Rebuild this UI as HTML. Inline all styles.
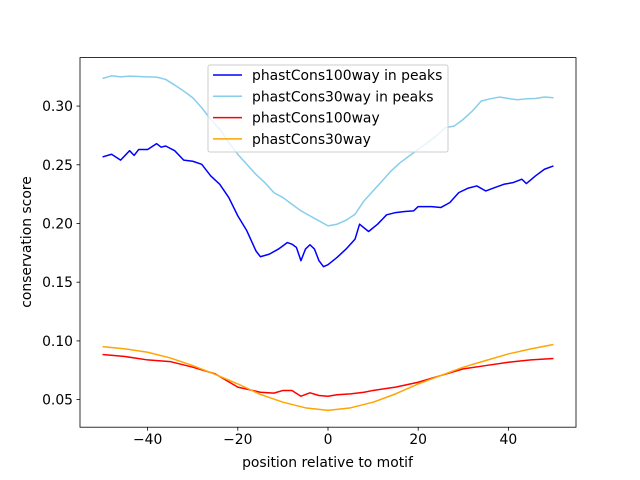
<!DOCTYPE html>
<html><head><meta charset="utf-8"><style>
body{margin:0;background:#fff}
svg{display:block;font-family:"DejaVu Sans","Liberation Sans",sans-serif}
</style></head><body>
<svg id="chart" width="640" height="480" viewBox="0 0 640 480">
<rect x="0" y="0" width="640" height="480" fill="#fff"/>
<g id="series"></g>
<g id="axes"></g>
<text x="327.5" y="467" font-size="13.9" text-anchor="middle" fill="#000">position relative to motif</text>
<text x="0" y="0" font-size="13.9" text-anchor="middle" fill="#000" transform="translate(31,242) rotate(-90)">conservation score</text>
<g id="legend"></g>
</svg>
<script>
const xTicks = [-40, -20, 0, 20, 40];
const yTicks = [0.05, 0.10, 0.15, 0.20, 0.25, 0.30];
const yTickLabels = ["0.05", "0.10", "0.15", "0.20", "0.25", "0.30"];

const peaks100X = [-50,-48,-46,-44,-43,-42,-40,-38,-37,-36,-34,-32,-30,-28,-26,-24,-22,-20,-18,-16,-15,-13,-11,-9,-8,-7,-6,-5,-4,-3,-2,-1,0,2,4,6,7,9,11,13,15,17,19,20,23,25,27,29,31,33,35,37,39,41,43,44,46,48,50];
const peaks100Y = [.2567,.2590,.2540,.2620,.2580,.2630,.2630,.2680,.2650,.2660,.2620,.2540,.2530,.2504,.2405,.2334,.2221,.2065,.1938,.1768,.1717,.1739,.1782,.1838,.1824,.1796,.1683,.1782,.1819,.1782,.1683,.1632,.1649,.1711,.1782,.1867,.1994,.1932,.1994,.2074,.2093,.2102,.2108,.2144,.2144,.2136,.2178,.2263,.2300,.2320,.2277,.2306,.2334,.2348,.2377,.2340,.2405,.2462,.2490];

const peaks30X = [-50,-48,-46,-44,-42,-40,-38,-36,-34,-32,-30,-28,-26,-24,-22,-20,-18,-16,-14,-12,-10,-8,-6,-4,-2,0,2,4,6,8,10,12,14,16,18,20,22,24,26,28,30,32,34,36,38,40,42,44,46,48,50];
const peaks30Y = [.3235,.3258,.3249,.3255,.3252,.3249,.3247,.3227,.3179,.3128,.3071,.2986,.2887,.2802,.2688,.2589,.2504,.2419,.2348,.2263,.2221,.2164,.2108,.2065,.2023,.1980,.1994,.2028,.2079,.2193,.2278,.2362,.2448,.2518,.2575,.2632,.2688,.2745,.2816,.2830,.2887,.2958,.3043,.3062,.3077,.3065,.3054,.3062,.3065,.3077,.3071];

const all100X = [-50,-45,-40,-35,-30,-25,-20,-15,-12,-10,-8,-6,-4,-2,0,2,5,8,10,15,20,25,30,35,40,45,50];
const all100Y = [.0884,.0867,.0838,.0824,.0776,.0719,.0606,.0563,.0555,.0578,.0578,.0529,.0558,.0535,.0529,.0541,.0549,.0563,.0578,.0606,.0648,.0705,.0762,.0790,.0818,.0838,.0850];

const all30X = [-50,-45,-40,-35,-30,-25,-20,-15,-10,-5,0,5,10,15,20,25,30,35,40,45,50];
const all30Y = [.0951,.0932,.0903,.0855,.0790,.0714,.0634,.0544,.0478,.0430,.0408,.0430,.0478,.0549,.0634,.0705,.0776,.0833,.0889,.0932,.0969];

const seriesNames = ["phastCons100way in peaks","phastCons30way in peaks","phastCons100way","phastCons30way"];
const seriesColors = ["#0000ff","#87ceeb","#ff0000","#ffa500"];

const L=80,R=576,T=57.6,B=427.2;
const xMin=-55,xMax=55,yMin=0.0265,yMax=0.3413;
function sx(v){return L+(v-xMin)/(xMax-xMin)*(R-L);}
function sy(v){return B-(v-yMin)/(yMax-yMin)*(B-T);}
const NS="http://www.w3.org/2000/svg";
function mk(tag,attrs,parent){const e=document.createElementNS(NS,tag);for(const k in attrs)e.setAttribute(k,attrs[k]);parent.appendChild(e);return e;}

const seriesG=document.getElementById('series');
const data=[[peaks100X,peaks100Y],[peaks30X,peaks30Y],[all100X,all100Y],[all30X,all30Y]];
const lineNames=['line-phastcons100way-peaks','line-phastcons30way-peaks','line-phastcons100way','line-phastcons30way'];
data.forEach((d,i)=>{
  const pts=d[0].map((x,j)=>sx(x).toFixed(2)+','+sy(d[1][j]).toFixed(2)).join(' ');
  const p=mk('polyline',{points:pts,fill:'none',stroke:seriesColors[i],'stroke-width':1.5,'stroke-linejoin':'round'},seriesG);
  
  
});

const axes=document.getElementById('axes');
const frame=mk('rect',{x:L,y:T,width:R-L,height:B-T,fill:'none',stroke:'#000','stroke-width':0.8},axes);


xTicks.forEach(t=>{
  const x=sx(t);
  const tk=mk('line',{x1:x,x2:x,y1:B,y2:B+3.5,stroke:'#000','stroke-width':0.8},axes);
  
  
  const lb=mk('text',{x:x,y:B+17,'font-size':13.9,'text-anchor':'middle',fill:'#000'},axes);
  lb.textContent=(t<0?'\u2212'+(-t):String(t));
  
  
});
yTicks.forEach((t,i)=>{
  const y=sy(t);
  const tk=mk('line',{x1:L-3.5,x2:L,y1:y,y2:y,stroke:'#000','stroke-width':0.8},axes);
  
  
  const lb=mk('text',{x:L-7,y:y+5,'font-size':13.9,'text-anchor':'end',fill:'#000'},axes);
  lb.textContent=yTickLabels[i];
  
  
});

const lg=document.getElementById('legend');
const box=mk('rect',{x:208,y:65,width:240,height:87,rx:2,fill:'#fff','fill-opacity':0.8,stroke:'#cccccc','stroke-width':1},lg);


seriesNames.forEach((n,i)=>{
  const y=75+i*21.3;
  const ln=mk('line',{x1:213,x2:242,y1:y,y2:y,stroke:seriesColors[i],'stroke-width':1.5},lg);
  
  
  const tx=mk('text',{x:252,y:y+5,'font-size':13.9,fill:'#000'},lg);
  tx.textContent=n;
  
  
});
</script>
</body></html>
